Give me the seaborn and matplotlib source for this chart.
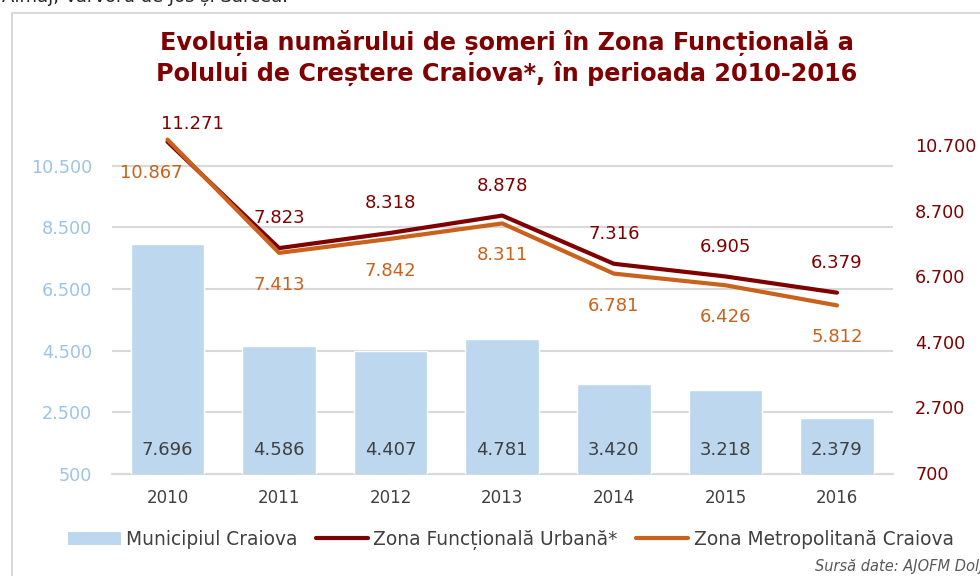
import matplotlib
matplotlib.use('Agg')
import matplotlib.pyplot as plt
from matplotlib.patches import Patch, Rectangle
from matplotlib.lines import Line2D
import seaborn as sns

# date (numar someri)
years = ['2010', '2011', '2012', '2013', '2014', '2015', '2016']
municipiul_craiova = [7696, 4586, 4407, 4781, 3420, 3218, 2379]
zona_functionala = [11271, 7823, 8318, 8878, 7316, 6905, 6379]
zona_metropolitana = [10867, 7413, 7842, 8311, 6781, 6426, 5812]
left_ticks = [500, 2500, 4500, 6500, 8500, 10500]
right_ticks = [700, 2700, 4700, 6700, 8700, 10700]

C_BAR = '#BDD7EE'
C_DARK = '#7F0000'
C_ORANGE = '#C8621C'
C_TEXT = '#404040'


def fmt(v):
    return f'{v:,}'.replace(',', '.')


sns.set_style('white')
plt.rcParams['font.family'] = ['DejaVu Sans']

fig = plt.figure(figsize=(9.8, 5.76), dpi=100)
ax = fig.add_axes([0.114, 0.177, 0.797, 0.6146])
ax2 = ax.twinx()

# bare + linia portocalie pe axa din dreapta, linia rosie pe axa din stanga
sns.barplot(x=years, y=municipiul_craiova, ax=ax2, color=C_BAR, width=0.66,
            saturation=1, zorder=1)
sns.lineplot(x=years, y=zona_metropolitana, ax=ax2, color=C_ORANGE, lw=3, sort=False, zorder=3)
sns.lineplot(x=years, y=zona_functionala, ax=ax, color=C_DARK, lw=3, sort=False, zorder=3)

ax.set_ylim(500, 11975)
ax2.set_ylim(670, 11463)
ax.set_xlim(-0.5, 6.5)
ax2.set_xlim(-0.5, 6.5)
ax.set_yticks(left_ticks)
ax.set_yticklabels([fmt(v) for v in left_ticks])
ax2.set_yticks(right_ticks)
ax2.set_yticklabels([fmt(v) for v in right_ticks])

ax.yaxis.grid(True, color='#D9D9D9', lw=1.5)
ax.xaxis.grid(False)
ax2.grid(False)
ax.set_axisbelow(True)
for a in (ax, ax2):
    for s in a.spines.values():
        s.set_visible(False)
    a.set_xlabel('')
    a.set_ylabel('')
ax.axhline(500, color='#D9D9D9', lw=1.5, clip_on=False, zorder=0)

ax.tick_params(axis='y', length=0, labelcolor='#9DC3E6', labelsize=12.7, pad=14)
ax2.tick_params(axis='y', length=0, labelcolor=C_DARK, labelsize=12.7, pad=16)
ax.tick_params(axis='x', length=0, labelcolor=C_TEXT, labelsize=12, pad=11)
ax2.tick_params(axis='x', length=0, labelbottom=False)
for t in ax.get_xticklabels():
    t.set_color(C_TEXT)

# etichete de date
for i, v in enumerate(municipiul_craiova):
    ax2.annotate(fmt(v), (i, 700), xytext=(0, 16.5), textcoords='offset points',
                 ha='center', va='center', fontsize=13, color=C_TEXT)
for i, v in enumerate(zona_functionala):
    off = (18, 13) if i == 0 else (0, 21.5)
    ax.annotate(fmt(v), (i, v), xytext=off, textcoords='offset points',
                ha='center', va='center', fontsize=13, color=C_DARK)
for i, v in enumerate(zona_metropolitana):
    off = (-12, -24) if i == 0 else (0, -23)
    ax2.annotate(fmt(v), (i, v), xytext=off, textcoords='offset points',
                 ha='center', va='center', fontsize=13, color=C_ORANGE)

# chenar + texte
fig.add_artist(Rectangle((12 / 980, -0.2), 1.2, 1.2 - 13 / 576, transform=fig.transFigure,
                         fill=False, edgecolor='#D9D9D9', lw=1.5))
fig.text(2 / 980, 1 + 3 / 576, 'Almaj, Vârvoru de Jos și Sărcea.', ha='left', va='center',
         fontsize=13, color='#262626')
fig.text(507 / 980, 1 - 58 / 576,
         'Evoluția numărului de șomeri în Zona Funcțională a\n'
         'Polului de Creștere Craiova*, în perioada 2010-2016',
         ha='center', va='center', fontsize=17.2, fontweight='bold', color=C_DARK,
         linespacing=1.22)

handles = [Patch(facecolor=C_BAR, edgecolor='none'),
           Line2D([], [], color=C_DARK, lw=3),
           Line2D([], [], color=C_ORANGE, lw=3)]
labels = ['Municipiul Craiova', 'Zona Funcțională Urbană*', 'Zona Metropolitană Craiova']
leg = fig.legend(handles, labels, loc='center', bbox_to_anchor=(511 / 980, 1 - 540 / 576),
                 ncol=3, frameon=False, fontsize=13.4, handlelength=2.8,
                 handletextpad=0.28, columnspacing=1.0)
for t in leg.get_texts():
    t.set_color(C_TEXT)

fig.text(983 / 980, 1 - 567 / 576, 'Sursă date: AJOFM Dolj', ha='right', va='center',
         fontsize=10.5, style='italic', color='#595959')

fig.savefig('out.png', dpi=100)
